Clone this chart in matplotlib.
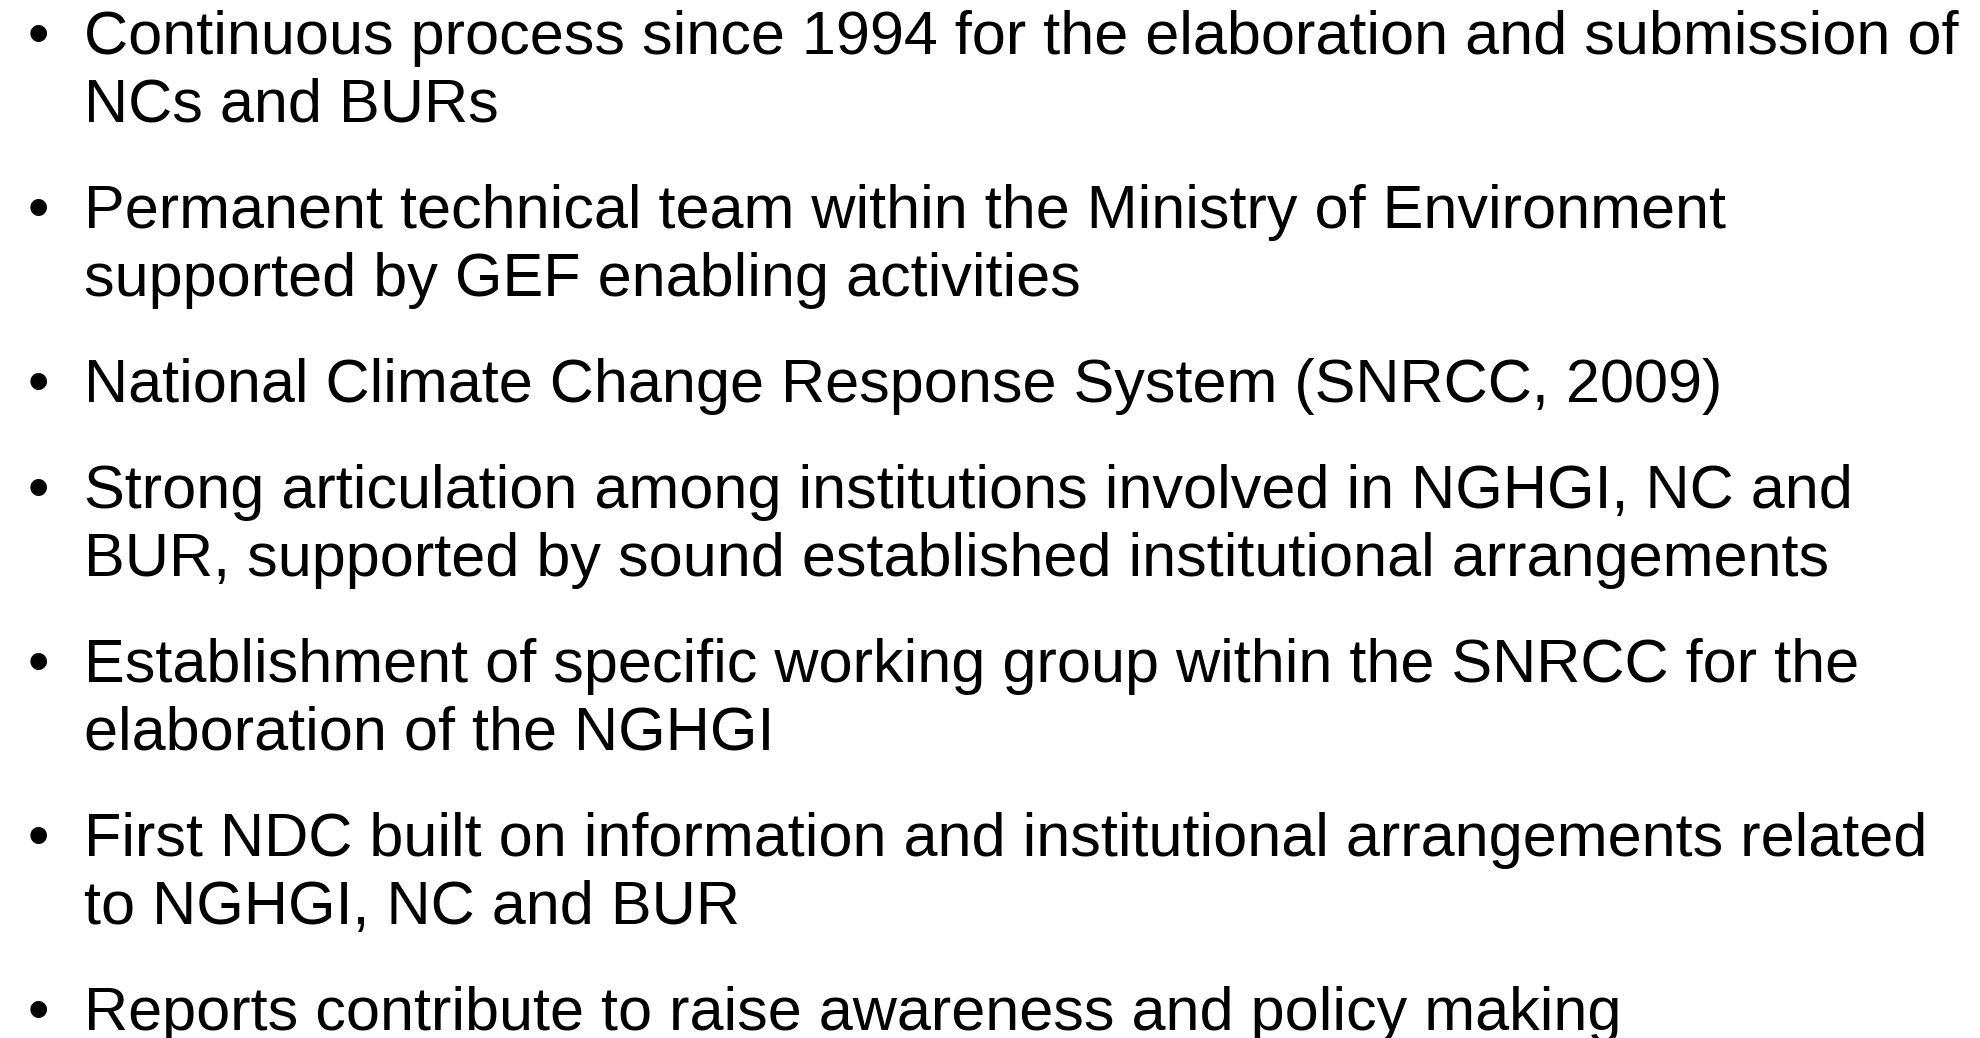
"""
Bullet slide: national reporting arrangements
"""

import matplotlib
matplotlib.use('Agg')
import matplotlib.pyplot as plt

# slide text, one list of wrapped lines per bullet
item_1 = ['Continuous process since 1994 for the elaboration and submission of',
          'NCs and BURs']
item_2 = ['Permanent technical team within the Ministry of Environment',
          'supported by GEF enabling activities']
item_3 = ['National Climate Change Response System (SNRCC, 2009)']
item_4 = ['Strong articulation among institutions involved in NGHGI, NC and',
          'BUR, supported by sound established institutional arrangements']
item_5 = ['Establishment of specific working group within the SNRCC for the',
          'elaboration of the NGHGI']
item_6 = ['First NDC built on information and institutional arrangements related',
          'to NGHGI, NC and BUR']
item_7 = ['Reports contribute to raise awareness and policy making']

items = [item_1, item_2, item_3, item_4, item_5, item_6, item_7]

W, H = 1980, 1038
FONT = 'Liberation Sans'
SIZE = 44

fig = plt.figure(figsize=(W / 100, H / 100), dpi=100)
fig.patch.set_facecolor('white')

# layout in pixels (baselines)
y = 54
line_step = 68
item_step = 106
bullet_x = 28
text_x = 84

for lines in items:
    fig.text(bullet_x / W, 1 - y / H, '\u2022', fontsize=SIZE, family=FONT,
             va='baseline', ha='left', color='black')
    for k, line in enumerate(lines):
        fig.text(text_x / W, 1 - y / H, line, fontsize=SIZE, family=FONT,
                 va='baseline', ha='left', color='black')
        if k < len(lines) - 1:
            y += line_step
    y += item_step

plt.savefig('out.png', dpi=100, facecolor='white')
plt.close()
